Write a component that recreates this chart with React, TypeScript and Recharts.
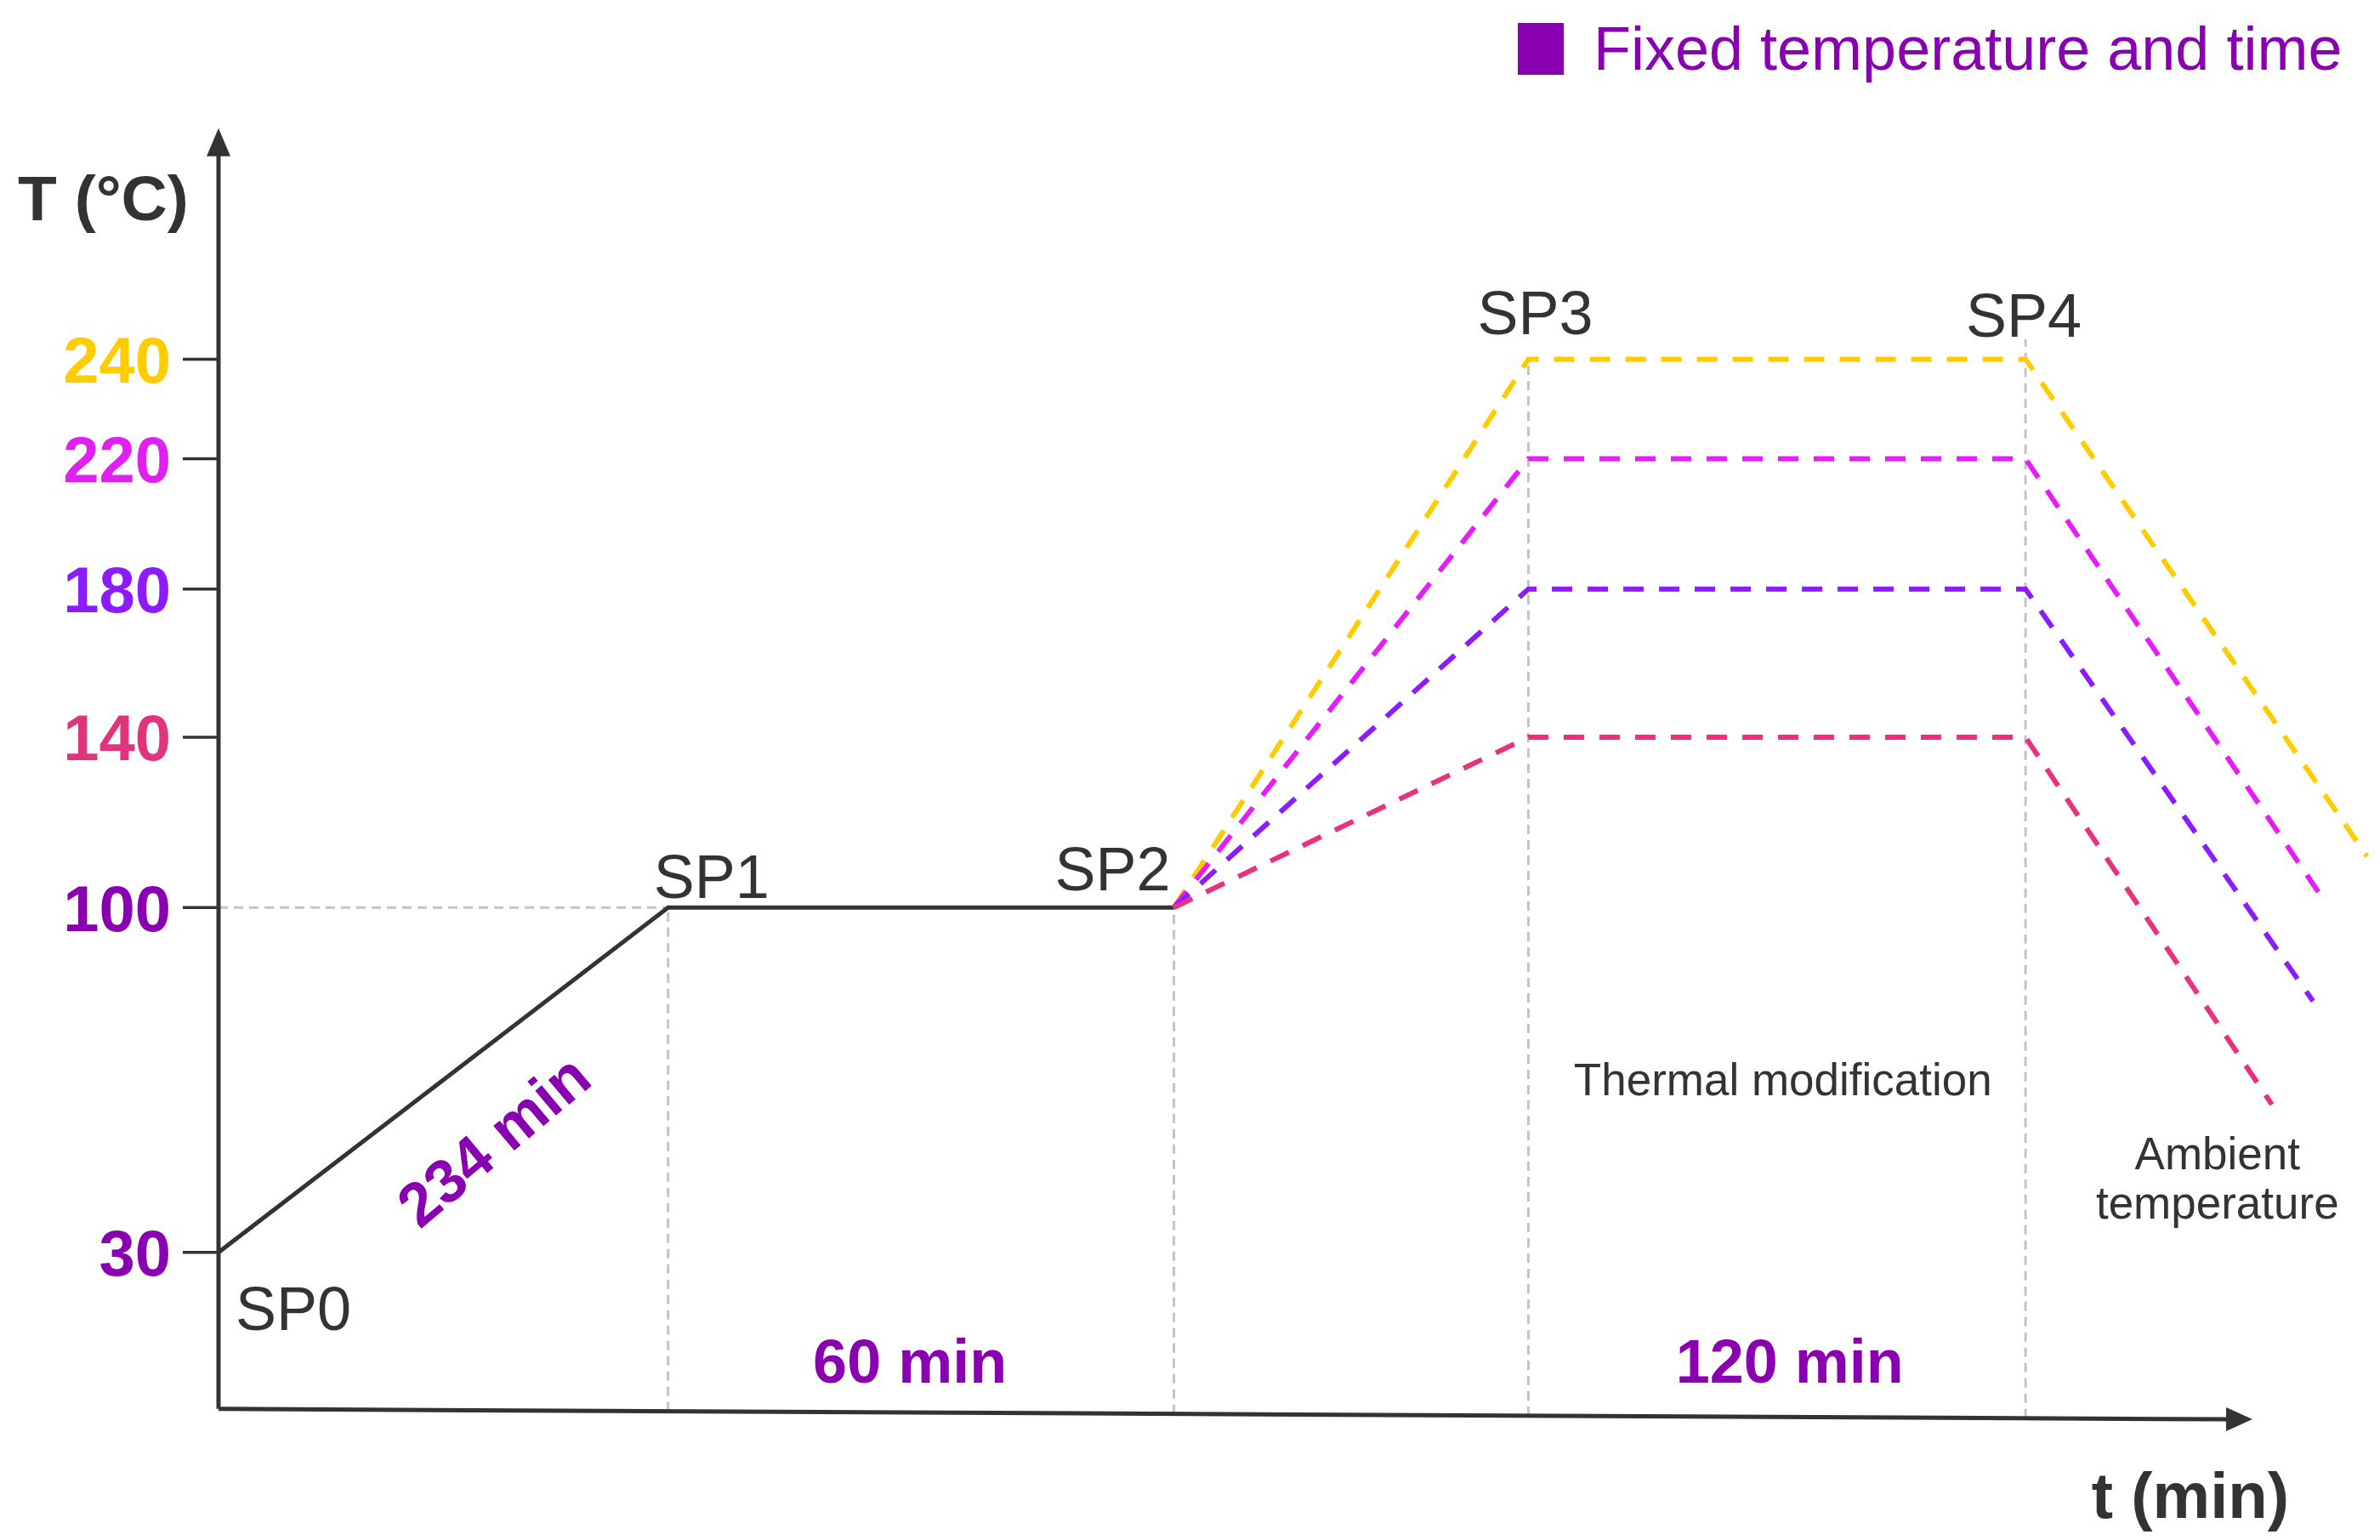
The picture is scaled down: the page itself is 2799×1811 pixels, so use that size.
import React from 'react'
import { LineChart, Line, XAxis, YAxis, ReferenceLine, ReferenceDot, Legend } from 'recharts'

const FONT = "'Liberation Sans', Arial, Helvetica, sans-serif"
const INK = '#333333'
const PURPLE = '#8800b0'
const GUIDE = '#c4c4c4'

// time axis is schematic (not to scale), positions are 0-100 along the axis
const stageNames = ['SP0', 'SP1', 'SP2', 'SP3', 'SP4']
const stagePos = [0, 20.8, 44.2, 60.6, 83.6]
const heatingTemps = [30, 100, 100] // SP0 -> SP1 -> SP2

// thermal modification levels, held from SP3 to SP4, then cooling
const modTemps = [240, 220, 180, 140]
const coolEndPos = [99.4, 97.5, 96.9, 95.0]
const coolEndTemps = [112, 101, 81, 60]

const tempTicks = [30, 100, 140, 180, 220, 240]

const modColors = ['#ffcc00', '#e61cfa', '#8c1cff', '#e8327f']
const tickColors: Record<number, string> = {
  30: PURPLE,
  100: PURPLE,
  140: '#e0357d',
  180: '#8c1cff',
  220: '#e020f0',
  240: '#ffcc00',
}

// the temperature axis of the drawing is not linear: piecewise scale
const tempKnots = [-5, 30, 100, 140, 180, 220, 240, 290]
const tempKnotPx = [1676, 1473, 1068, 868, 694, 541, 424, 129]

function makePiecewiseScale(knots: number[], px: number[]) {
  const bottom = px[0]
  const top = px[px.length - 1]
  const frac = px.map(p => (bottom - p) / (bottom - top))
  const build = (d0: number[], r0: number[]): any => {
    let dom = d0
    let rng = r0
    const toFrac = (v: number) => {
      let i = 1
      while (i < knots.length - 1 && v > knots[i]) i++
      return frac[i - 1] + ((v - knots[i - 1]) / (knots[i] - knots[i - 1])) * (frac[i] - frac[i - 1])
    }
    const s: any = (v: number) => rng[0] + toFrac(v) * (rng[1] - rng[0])
    s.domain = (d?: number[]) => {
      if (d === undefined) return dom.slice()
      dom = Array.from(d)
      return s
    }
    s.range = (r?: number[]) => {
      if (r === undefined) return rng.slice()
      rng = Array.from(r)
      return s
    }
    s.copy = () => build(dom.slice(), rng.slice())
    s.ticks = () => tempTicks.slice()
    s.tickFormat = () => (v: number) => String(v)
    s.nice = () => s
    s.clamp = () => s
    s.invert = (y: number) => {
      const f = (y - rng[0]) / (rng[1] - rng[0])
      let i = 1
      while (i < frac.length - 1 && f > frac[i]) i++
      return knots[i - 1] + ((f - frac[i - 1]) / (frac[i] - frac[i - 1])) * (knots[i] - knots[i - 1])
    }
    return s
  }
  return build([knots[0], knots[knots.length - 1]], [0, 1])
}

const tempScale = makePiecewiseScale(tempKnots, tempKnotPx)

const heatingData = heatingTemps.map((T, i) => ({ t: stagePos[i], T }))
const modData = modTemps.map((T, i) => [
  { t: stagePos[2], T: heatingTemps[2] },
  { t: stagePos[3], T },
  { t: stagePos[4], T },
  { t: coolEndPos[i], T: coolEndTemps[i] },
])

type Note = {
  text: string
  x: number
  y: number
  dx: number
  dy: number
  size: number
  color: string
  bold?: boolean
  anchor?: 'start' | 'middle' | 'end'
  angle?: number
}

const stageAnchorTemps = [heatingTemps[0], heatingTemps[1], heatingTemps[2], modTemps[0], modTemps[0]]
const stageOffsets = [
  { dx: 20, dy: 66, anchor: 'start' as const },
  { dx: 51, dy: -36, anchor: 'middle' as const },
  { dx: -72, dy: -45, anchor: 'middle' as const },
  { dx: 8, dy: -54, anchor: 'middle' as const },
  { dx: -2, dy: -51, anchor: 'middle' as const },
]

const notes: Note[] = [
  ...stageNames.map((name, i) => ({
    text: name,
    x: stagePos[i],
    y: stageAnchorTemps[i],
    ...stageOffsets[i],
    size: 72,
    color: INK,
  })),
  { text: '234 min', x: 10.4, y: 65, dx: 59, dy: 71, size: 72, color: PURPLE, bold: true, angle: -40 },
  { text: '60 min', x: 32.5, y: 8, dx: -13, dy: 0, size: 72, color: PURPLE, bold: true },
  { text: '120 min', x: 72.1, y: 8, dx: 15, dy: 0, size: 72, color: PURPLE, bold: true },
  { text: 'Thermal modification', x: 72.1, y: 65, dx: 7, dy: 0, size: 53, color: INK },
  { text: 'Ambient', x: 92.4, y: 50, dx: 2, dy: 0, size: 53, color: INK },
  { text: 'temperature', x: 92.4, y: 40, dx: 2, dy: 0, size: 53, color: INK },
  { text: 'T (°C)', x: 0, y: 272, dx: -236, dy: 0, size: 75, color: INK, bold: true, anchor: 'start' },
  { text: 't (min)', x: 94.1, y: -3.8, dx: 43, dy: 89, size: 76, color: INK, bold: true, anchor: 'end' },
]

const noteShape = (n: Note) => (p: any) => {
  const x = p.cx + n.dx
  const y = p.cy + n.dy
  return (
    <text
      x={x}
      y={y}
      textAnchor={n.anchor ?? 'middle'}
      dominantBaseline="central"
      fontFamily={FONT}
      fontSize={n.size}
      fontWeight={n.bold ? 700 : 400}
      fill={n.color}
      transform={n.angle ? `rotate(${n.angle} ${x} ${y})` : undefined}
    >
      {n.text}
    </text>
  )
}

const upArrow = (p: any) => (
  <polygon points={`${p.cx},${p.cy} ${p.cx - 14},${p.cy + 33} ${p.cx + 14},${p.cy + 33}`} fill={INK} />
)
const rightArrow = (p: any) => (
  <polygon points={`${p.cx},${p.cy} ${p.cx - 31},${p.cy - 14} ${p.cx - 31},${p.cy + 14}`} fill={INK} />
)

const TempTick = (props: any) => {
  const { x, y, payload } = props
  return (
    <text
      x={x}
      y={y}
      dy="0.36em"
      textAnchor="end"
      fontFamily={FONT}
      fontWeight={700}
      fontSize={76}
      fill={tickColors[payload.value] ?? INK}
    >
      {payload.value}
    </text>
  )
}

const LegendBox = () => (
  <div
    style={{
      display: 'flex',
      alignItems: 'center',
      fontFamily: FONT,
      fontSize: 72,
      color: PURPLE,
      whiteSpace: 'nowrap',
      lineHeight: 1,
    }}
  >
    <span style={{ display: 'inline-block', width: 54, height: 61, background: PURPLE, marginRight: 35 }} />
    Fixed temperature and time
  </div>
)

// vertical guides drop to the (slightly sloped) time axis
const guideBottoms = [-2.2, -2.7, -3.1, -3.6]
const guideTops = [heatingTemps[1], heatingTemps[2], modTemps[0], 244]

export default function App() {
  return (
    <div style={{ position: 'absolute', left: 0, top: 0, width: 2799, height: 1811, background: '#fff', overflow: 'hidden' }}>
      <LineChart width={2799} height={1811} margin={{ top: 127, right: 0, bottom: 135, left: 0 }}>
        <XAxis type="number" dataKey="t" domain={[0, 100]} hide allowDataOverflow />
        <YAxis
          type="number"
          dataKey="T"
          width={257}
          domain={[-5, 290]}
          scale={tempScale}
          ticks={tempTicks}
          interval={0}
          axisLine={false}
          tickLine={{ stroke: INK, strokeWidth: 3.5 }}
          tickSize={42}
          tickMargin={14}
          tick={(p: any) => <TempTick {...p} />}
          allowDataOverflow
        />
        <Legend
          layout="vertical"
          align="center"
          verticalAlign="middle"
          content={() => <LegendBox />}
          wrapperStyle={{ left: 1785, top: 21, width: 1000, height: 62 }}
        />

        <ReferenceLine
          segment={[{ x: 0, y: heatingTemps[1] }, { x: stagePos[1], y: heatingTemps[1] }]}
          stroke={GUIDE}
          strokeWidth={3}
          strokeDasharray="11 7"
        />
        {guideTops.map((top, i) => (
          <ReferenceLine
            key={'g' + i}
            segment={[{ x: stagePos[i + 1], y: guideBottoms[i] }, { x: stagePos[i + 1], y: top }]}
            stroke={GUIDE}
            strokeWidth={3}
            strokeDasharray="11 7"
          />
        ))}

        <ReferenceLine segment={[{ x: 0, y: -1.7 }, { x: 0, y: 281 }]} stroke={INK} strokeWidth={5} />
        <ReferenceLine segment={[{ x: 0, y: -1.7 }, { x: 92.9, y: -3.8 }]} stroke={INK} strokeWidth={5} />
        <ReferenceDot x={0} y={286} r={0} ifOverflow="visible" shape={upArrow} />
        <ReferenceDot x={94.1} y={-3.8} r={0} ifOverflow="visible" shape={rightArrow} />

        <Line
          data={heatingData}
          dataKey="T"
          name="Heating and drying"
          type="linear"
          stroke={INK}
          strokeWidth={5}
          dot={false}
          activeDot={false}
          isAnimationActive={false}
        />
        {modData.map((d, i) => (
          <Line
            key={'m' + i}
            data={d}
            dataKey="T"
            name={`${modTemps[i]} °C`}
            type="linear"
            stroke={modColors[i]}
            strokeWidth={6}
            strokeDasharray="24 18"
            dot={false}
            activeDot={false}
            isAnimationActive={false}
          />
        ))}

        {notes.map((n, i) => (
          <ReferenceDot key={'n' + i} x={n.x} y={n.y} r={0} ifOverflow="visible" shape={noteShape(n)} />
        ))}
      </LineChart>
    </div>
  )
}
